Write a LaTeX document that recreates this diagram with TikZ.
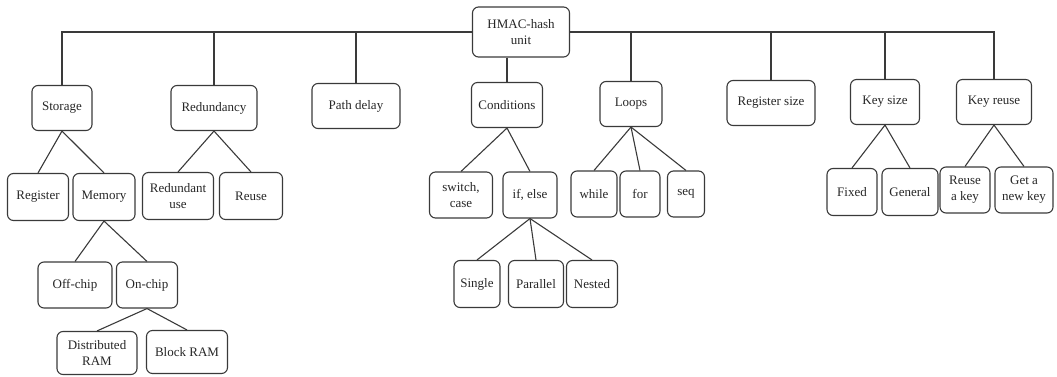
\documentclass[tikz,border=0pt]{standalone}
\usepackage{fontspec}
\setmainfont{Liberation Serif}
\usepackage{tikz}
\usetikzlibrary{positioning}

\definecolor{linegray}{HTML}{3A3A3A}
\definecolor{textgray}{HTML}{262626}

\tikzset{
  unit/.style={draw=linegray, line width=1.1pt, rounded corners=6pt,
    align=center, minimum height=45pt, inner sep=2pt, text=textgray,
    font=\fontsize{13}{16}\selectfont},
  link/.style={draw=linegray, line width=1.1pt}
}

\begin{document}
\begin{tikzpicture}[x=1pt,y=-1pt]
	\useasboundingbox (0,0) rectangle (1057,377);
	
	% root
	\node[unit, minimum width=97pt, minimum height=50pt] (hmac) at (521,32) {HMAC-hash\\unit};
	
	% first level
	\node[unit, minimum width=60pt] (storage) at (62,108) {Storage};
	\node[unit, minimum width=86pt] (redund) at (214,108) {Redundancy};
	\node[unit, minimum width=88pt] (pathd) at (356,106) {Path delay};
	\node[unit, minimum width=71pt] (cond) at (507,105) {Conditions};
	\node[unit, minimum width=62pt] (loops) at (631,104) {Loops};
	\node[unit, minimum width=88pt] (regsize) at (771,103) {Register size};
	\node[unit, minimum width=69pt] (keysize) at (885,102) {Key size};
	\node[unit, minimum width=75pt] (keyreuse) at (994,102) {Key reuse};
	
	% second level
	\node[unit, minimum width=61pt, minimum height=47pt] (reg) at (38,197) {Register};
	\node[unit, minimum width=62pt, minimum height=47pt] (mem) at (104,197) {Memory};
	\node[unit, minimum width=71pt, minimum height=47pt] (redunduse) at (178,196) {Redundant\\use};
	\node[unit, minimum width=63pt, minimum height=47pt] (reuse) at (251,196) {Reuse};
	\node[unit, minimum width=63pt, minimum height=46pt] (switch) at (461,195) {switch,\\case};
	\node[unit, minimum width=54pt, minimum height=46pt] (ifelse) at (530,195) {if, else};
	\node[unit, minimum width=46pt, minimum height=46pt] (lwhile) at (594,194) {while};
	\node[unit, minimum width=40pt, minimum height=46pt] (lfor) at (640,194) {for};
	\node[unit, minimum width=37pt, minimum height=46pt] (lseq) at (686,194) {seq};
	\node[unit, minimum width=50pt, minimum height=47pt] (fixed) at (852,192) {Fixed};
	\node[unit, minimum width=56pt, minimum height=47pt] (general) at (910,192) {General};
	\node[unit, minimum width=50pt, minimum height=46pt] (reusekey) at (965,190) {Reuse\\a key};
	\node[unit, minimum width=58pt, minimum height=46pt] (newkey) at (1024,190) {Get a\\new key};
	
	% third level
	\node[unit, minimum width=74pt, minimum height=46pt] (offchip) at (75,285) {Off-chip};
	\node[unit, minimum width=61pt, minimum height=46pt] (onchip) at (147,285) {On-chip};
	\node[unit, minimum width=46pt, minimum height=47pt] (single) at (477,284) {Single};
	\node[unit, minimum width=55pt, minimum height=47pt] (parallel) at (536,284) {Parallel};
	\node[unit, minimum width=51pt, minimum height=47pt] (nested) at (592,284) {Nested};
	
	% fourth level
	\node[unit, minimum width=80pt, minimum height=43pt] (distram) at (97,353) {Distributed\\RAM};
	\node[unit, minimum width=81pt, minimum height=43pt] (blockram) at (187,352) {Block RAM};
	
	% bus from the root
	\draw[link] (storage.north) |- (hmac.west);
	\draw[link] (hmac.east) -| (keyreuse.north);
	\foreach \n in {redund,pathd,loops,regsize,keysize}
		\draw[link] (\n.north) -- (\n.north |- hmac.west);
	\draw[link] (hmac.south -| cond.north) -- (cond.north);
	
	% branches
	\foreach \p/\c in {storage/reg, storage/mem, redund/redunduse, redund/reuse,
		cond/switch, cond/ifelse, loops/lwhile, loops/lfor, loops/lseq,
		keysize/fixed, keysize/general, keyreuse/reusekey, keyreuse/newkey,
		mem/offchip, mem/onchip, ifelse/single, ifelse/parallel, ifelse/nested,
		onchip/distram, onchip/blockram}
		\draw[link] (\p.south) -- (\c.north);
\end{tikzpicture}
\end{document}
